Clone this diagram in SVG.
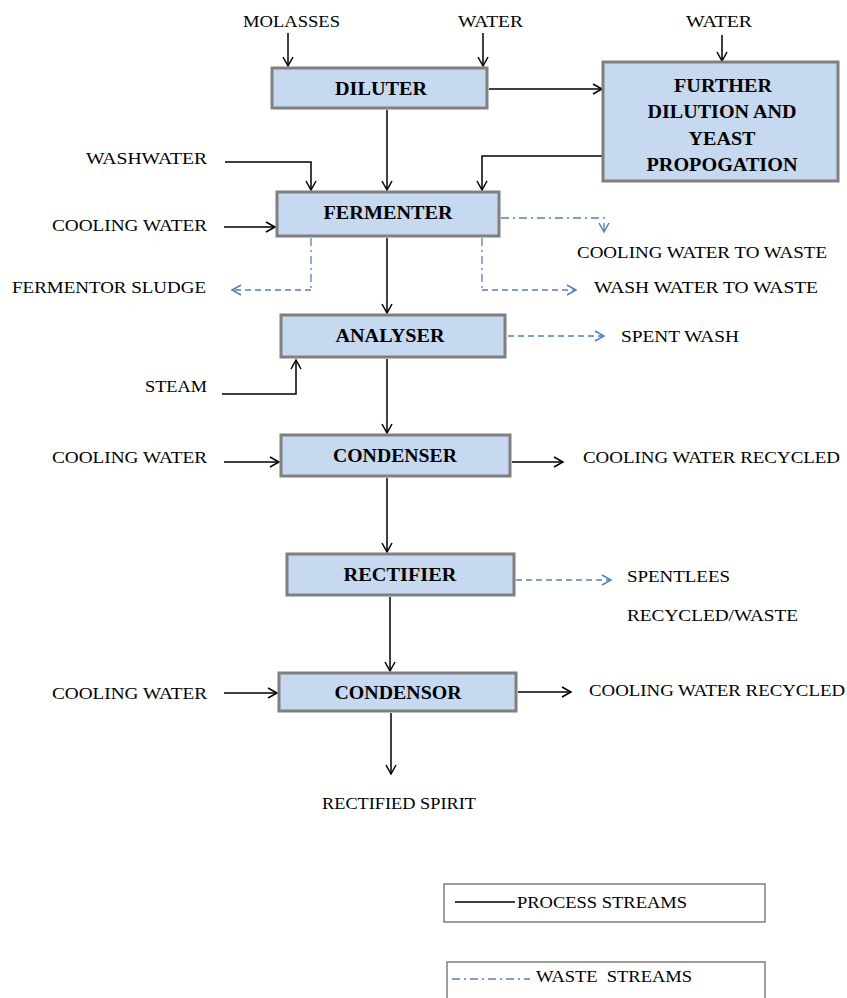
<svg xmlns="http://www.w3.org/2000/svg" width="847" height="998" viewBox="0 0 847 998">
<defs>
<marker id="ab" markerWidth="12" markerHeight="12" refX="10" refY="6" orient="auto" markerUnits="userSpaceOnUse">
<path d="M1,1 L10,6 L1,11" fill="none" stroke="#000" stroke-width="1.5"/>
</marker>
<marker id="aw" markerWidth="12" markerHeight="12" refX="10" refY="6" orient="auto" markerUnits="userSpaceOnUse">
<path d="M1,1 L10,6 L1,11" fill="none" stroke="#4f81bd" stroke-width="1.5"/>
</marker>
</defs>
<style>
.box{fill:#c6d9f1;stroke:#7f7f7f;stroke-width:3}
.bl{font-family:"Liberation Serif",serif;font-weight:bold;font-size:18px;text-anchor:middle;fill:#000}
.lb{font-family:"Liberation Serif",serif;font-size:17px;fill:#000}
.p{fill:none;stroke:#000;stroke-width:1.5}
.w{fill:none;stroke:#4f81bd;stroke-width:1.3}
.dd{stroke-dasharray:8,4,2,4}
.da{stroke-dasharray:6,4}
.leg{fill:#fff;stroke:#7f7f7f;stroke-width:1.5}
</style>
<rect width="847" height="998" fill="#fff"/>
<g id="connectors">
<path class="p" d="M288,33 V66" marker-end="url(#ab)"/>
<path class="p" d="M483,33 V66" marker-end="url(#ab)"/>
<path class="p" d="M722,35 V61" marker-end="url(#ab)"/>
<path class="p" d="M489,89 H602" marker-end="url(#ab)"/>
<path class="p" d="M387,110 V190" marker-end="url(#ab)"/>
<path class="p" d="M603,156 H482 V190" marker-end="url(#ab)"/>
<path class="p" d="M225,162 H311 V190" marker-end="url(#ab)"/>
<path class="p" d="M224,227 H275" marker-end="url(#ab)"/>
<path class="w dd" d="M501,218 H604 V232" marker-end="url(#aw)"/>
<path class="w dd" d="M311,238 V290"/>
<path class="w da" d="M311,290 H232" marker-end="url(#aw)"/>
<path class="w dd" d="M482,238 V290"/>
<path class="w da" d="M482,290 H576" marker-end="url(#aw)"/>
<path class="p" d="M387,238 V313" marker-end="url(#ab)"/>
<path class="w da" d="M508,336 H604" marker-end="url(#aw)"/>
<path class="p" d="M222,394 H296 V360" marker-end="url(#ab)"/>
<path class="p" d="M387,359 V433" marker-end="url(#ab)"/>
<path class="p" d="M224,462 H279" marker-end="url(#ab)"/>
<path class="p" d="M512,462 H563" marker-end="url(#ab)"/>
<path class="p" d="M387,478 V552" marker-end="url(#ab)"/>
<path class="w da" d="M516,580 H611" marker-end="url(#aw)"/>
<path class="p" d="M390,597 V671" marker-end="url(#ab)"/>
<path class="p" d="M224,693 H277" marker-end="url(#ab)"/>
<path class="p" d="M518,692 H571" marker-end="url(#ab)"/>
<path class="p" d="M391,713 V774" marker-end="url(#ab)"/>
</g>
<g id="diluter"><rect class="box" x="272" y="68" width="215" height="40"/><text class="bl" x="381" y="95" textLength="92" lengthAdjust="spacingAndGlyphs">DILUTER</text></g>
<g id="further"><rect class="box" x="603" y="62" width="235" height="119"/>
<text class="bl" x="723" y="92" textLength="98" lengthAdjust="spacingAndGlyphs">FURTHER</text>
<text class="bl" x="722" y="118" textLength="149" lengthAdjust="spacingAndGlyphs">DILUTION AND</text>
<text class="bl" x="722" y="145" textLength="67" lengthAdjust="spacingAndGlyphs">YEAST</text>
<text class="bl" x="722" y="171" textLength="151" lengthAdjust="spacingAndGlyphs">PROPOGATION</text></g>
<g id="fermenter"><rect class="box" x="277" y="192" width="222" height="44"/><text class="bl" x="388" y="219" textLength="129" lengthAdjust="spacingAndGlyphs">FERMENTER</text></g>
<g id="analyser"><rect class="box" x="281" y="315" width="224" height="42"/><text class="bl" x="390" y="342" textLength="109" lengthAdjust="spacingAndGlyphs">ANALYSER</text></g>
<g id="condenser"><rect class="box" x="281" y="435" width="229" height="41"/><text class="bl" x="395" y="462" textLength="124" lengthAdjust="spacingAndGlyphs">CONDENSER</text></g>
<g id="rectifier"><rect class="box" x="287" y="554" width="227" height="41"/><text class="bl" x="400" y="581" textLength="113" lengthAdjust="spacingAndGlyphs">RECTIFIER</text></g>
<g id="condensor"><rect class="box" x="279" y="673" width="237" height="38"/><text class="bl" x="398" y="699" textLength="127" lengthAdjust="spacingAndGlyphs">CONDENSOR</text></g>
<g id="labels">
<text class="lb" x="243" y="27" textLength="97" lengthAdjust="spacingAndGlyphs">MOLASSES</text>
<text class="lb" x="458" y="27" textLength="65" lengthAdjust="spacingAndGlyphs">WATER</text>
<text class="lb" x="686" y="27" textLength="66" lengthAdjust="spacingAndGlyphs">WATER</text>
<text class="lb" x="86" y="164" textLength="121" lengthAdjust="spacingAndGlyphs">WASHWATER</text>
<text class="lb" x="52" y="231" textLength="155" lengthAdjust="spacingAndGlyphs">COOLING WATER</text>
<text class="lb" x="577" y="258" textLength="250" lengthAdjust="spacingAndGlyphs">COOLING WATER TO WASTE</text>
<text class="lb" x="12" y="293" textLength="194" lengthAdjust="spacingAndGlyphs">FERMENTOR SLUDGE</text>
<text class="lb" x="594" y="293" textLength="224" lengthAdjust="spacingAndGlyphs">WASH WATER TO WASTE</text>
<text class="lb" x="621" y="342" textLength="118" lengthAdjust="spacingAndGlyphs">SPENT WASH</text>
<text class="lb" x="145" y="392" textLength="62" lengthAdjust="spacingAndGlyphs">STEAM</text>
<text class="lb" x="52" y="463" textLength="155" lengthAdjust="spacingAndGlyphs">COOLING WATER</text>
<text class="lb" x="583" y="463" textLength="257" lengthAdjust="spacingAndGlyphs">COOLING WATER RECYCLED</text>
<text class="lb" x="627" y="582" textLength="103" lengthAdjust="spacingAndGlyphs">SPENTLEES</text>
<text class="lb" x="627" y="621" textLength="171" lengthAdjust="spacingAndGlyphs">RECYCLED/WASTE</text>
<text class="lb" x="52" y="699" textLength="155" lengthAdjust="spacingAndGlyphs">COOLING WATER</text>
<text class="lb" x="589" y="696" textLength="256" lengthAdjust="spacingAndGlyphs">COOLING WATER RECYCLED</text>
<text class="lb" x="322" y="809" textLength="154" lengthAdjust="spacingAndGlyphs">RECTIFIED SPIRIT</text>
</g>
<g id="legend-process"><rect class="leg" x="444" y="884" width="321" height="38"/>
<path d="M455,902 H515" stroke="#000" stroke-width="1.5"/>
<text class="lb" x="517" y="908" textLength="170" lengthAdjust="spacingAndGlyphs">PROCESS STREAMS</text></g>
<g id="legend-waste"><rect class="leg" x="447" y="962" width="318" height="40"/>
<path class="w dd" d="M452,979 H530"/>
<text class="lb" x="536" y="982" textLength="156" lengthAdjust="spacingAndGlyphs" xml:space="preserve">WASTE  STREAMS</text></g>
</svg>
